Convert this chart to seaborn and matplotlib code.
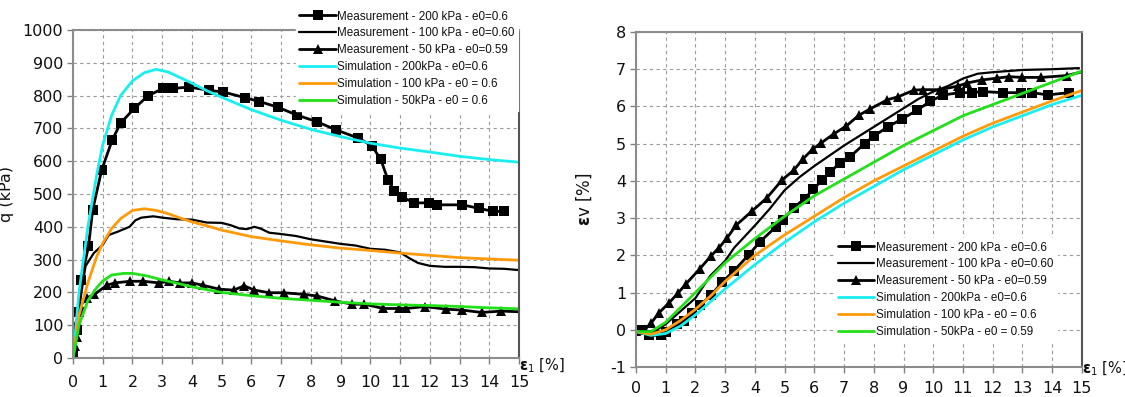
import matplotlib
matplotlib.use("Agg")
import matplotlib.pyplot as plt
import seaborn as sns
import pandas as pd

# ---------------- data: left chart (q vs eps1) ----------------
m200_q_x = [0, 0.12, 0.2, 0.28, 0.52, 0.66, 0.96, 1.32, 1.6, 2.06, 2.52, 3.02, 3.38, 3.9, 4.58, 5.06,
            5.77, 6.27, 6.88, 7.55, 8.19, 8.86, 9.59, 10.05, 10.35, 10.59, 10.8, 11.08, 11.46, 11.99,
            12.24, 13.1, 13.66, 14.14, 14.5]
m200_q_y = [8, 84, 139, 239, 340, 451, 572, 665, 716, 761, 799, 822, 822, 826, 816, 811,
            794, 782, 765, 740, 721, 695, 671, 647, 606, 544, 510, 491, 473, 473,
            467, 467, 456, 447, 447]

m100_q_x = [0, 0.2, 0.42, 0.7, 1.0, 1.2, 1.5, 1.9, 2.1, 2.3, 2.7, 3.0, 3.5, 4.0, 4.5, 5.0, 5.3, 5.6,
            5.85, 6.1, 6.3, 6.6, 7.0, 7.5, 8.0, 8.5, 9.0, 9.5, 10.0, 10.5, 11.0, 11.3, 11.6, 12.0,
            12.5, 13.0, 13.5, 14.0, 14.5, 15.0]
m100_q_y = [8, 150, 280, 320, 345, 375, 385, 400, 420, 428, 432, 428, 423, 422, 413, 412, 405, 395,
            393, 400, 395, 382, 378, 372, 362, 355, 348, 343, 333, 330, 322, 305, 290, 281,
            278, 278, 277, 273, 272, 268]

m50_q_x = [0, 0.06, 0.12, 0.12, 0.24, 0.48, 0.72, 1.14, 1.4, 1.93, 2.36, 2.9, 3.22, 3.6, 4.0, 4.36,
           4.91, 5.4, 5.76, 6.1, 6.6, 7.08, 7.78, 8.22, 8.82, 9.4, 9.8, 10.44, 10.98, 11.2, 11.84,
           12.53, 13.1, 13.74, 14.41, 15.0]
m50_q_y = [3, 38, 63, 109, 159, 184, 194, 222, 229, 234, 234, 229, 234, 229, 229, 222,
           210, 207, 220, 207, 199, 199, 194, 189, 174, 164, 164, 151, 151, 151, 157,
           149, 146, 139, 143, 141]
m50_q_mark = list(range(len(m50_q_x) - 1))

s_q_x = [0, 0.2, 0.5, 0.8, 1.0, 1.3, 1.6, 2.0, 2.4, 2.8, 3.2, 3.6, 4.0, 4.5, 5.0, 6.0, 7.0, 8.0,
         9.0, 10.0, 11.0, 12.0, 13.0, 14.0, 15.0]
s200_q_y = [0, 200, 400, 560, 650, 740, 800, 845, 870, 880, 872, 855, 838, 815, 795, 757, 725, 697,
            675, 655, 640, 628, 615, 605, 597]
s100_q_y = [0, 130, 230, 310, 350, 395, 425, 450, 455, 450, 440, 427, 415, 403, 390, 370, 357, 345,
            335, 328, 320, 313, 306, 302, 298]
s50_q_x = [0, 0.2, 0.5, 0.8, 1.0, 1.3, 1.7, 2.0, 2.5, 3.0, 3.5, 4.0, 5.0, 6.0, 7.0, 8.0, 9.0, 10.0,
           11.0, 12.0, 13.0, 14.0, 15.0]
s50_q_y = [0, 100, 175, 215, 235, 253, 258, 258, 250, 238, 228, 217, 200, 190, 182, 176, 170, 165,
           162, 160, 157, 153, 150]

# ---------------- data: right chart (eps_v vs eps1) ----------------
m200_v_x = [0, 0.2, 0.45, 0.84, 1.02, 1.39, 1.63, 1.87, 2.17, 2.53, 2.89, 3.29, 3.8, 4.18, 4.7, 4.93,
            5.31, 5.67, 5.96, 6.27, 6.52, 6.87, 7.19, 7.69, 7.99, 8.49, 8.94, 9.46, 9.9, 10.34, 10.9,
            11.3, 11.66, 12.35, 12.95, 13.31, 13.86, 14.55]
m200_v_y = [0, 0, -0.15, -0.15, -0.05, 0.15, 0.24, 0.46, 0.67, 0.93, 1.27, 1.58, 2.02, 2.37, 2.76, 2.94,
            3.28, 3.52, 3.77, 4.03, 4.23, 4.49, 4.64, 5.0, 5.2, 5.46, 5.66, 5.9, 6.14, 6.31, 6.37,
            6.37, 6.4, 6.37, 6.37, 6.37, 6.31, 6.37]

m100_v_x = [0, 0.5, 1.0, 1.5, 2.0, 2.5, 3.0, 3.3, 4.0, 4.5, 5.0, 5.5, 6.0, 7.0, 8.0, 8.5, 9.0, 9.5,
            10.0, 10.5, 11.0, 11.5, 12.0, 13.0, 14.0, 14.9]
m100_v_y = [-0.05, -0.1, 0.15, 0.5, 0.85, 1.45, 1.85, 2.2, 2.8, 3.25, 3.75, 4.1, 4.4, 4.95, 5.45, 5.7,
            5.95, 6.2, 6.4, 6.55, 6.75, 6.88, 6.92, 6.98, 7.0, 7.03]

m50_v_x = [0, 0.3, 0.52, 0.78, 1.12, 1.41, 1.69, 2.14, 2.53, 2.8, 3.07, 3.37, 3.89, 4.4, 4.92, 5.3,
           5.63, 5.94, 6.23, 6.65, 7.07, 7.49, 7.87, 8.46, 8.82, 9.36, 9.67, 10.24, 10.84, 11.14,
           11.63, 12.14, 12.55, 12.99, 13.64, 14.49, 15.0]
m50_v_y = [-0.03, 0, 0.19, 0.46, 0.73, 0.98, 1.24, 1.63, 1.99, 2.21, 2.47, 2.81, 3.18, 3.54, 4.03, 4.28,
           4.6, 4.85, 5.02, 5.26, 5.47, 5.76, 5.93, 6.18, 6.26, 6.44, 6.45, 6.45, 6.55, 6.63,
           6.71, 6.76, 6.8, 6.78, 6.78, 6.83, 6.93]
m50_v_mark = list(range(len(m50_v_x) - 1))

s_v_x = [0, 0.5, 1.0, 1.5, 2.0, 2.5, 3.0, 4.0, 5.0, 6.0, 7.0, 8.0, 9.0, 10.0, 11.0, 12.0, 13.0, 14.0, 15.0]
s200_v_y = [-0.05, -0.15, -0.1, 0.1, 0.4, 0.75, 1.1, 1.75, 2.35, 2.9, 3.4, 3.85, 4.3, 4.7, 5.1, 5.45,
            5.75, 6.05, 6.3]
s100_v_y = [-0.05, -0.12, 0.0, 0.25, 0.55, 0.9, 1.3, 2.0, 2.55, 3.05, 3.55, 4.0, 4.4, 4.8, 5.2, 5.55,
            5.85, 6.15, 6.43]
s50_v_y = [-0.05, -0.05, 0.2, 0.6, 1.0, 1.4, 1.8, 2.45, 3.05, 3.6, 4.05, 4.5, 4.95, 5.35, 5.75, 6.05,
           6.35, 6.65, 6.95]

labels_left = ["Measurement - 200 kPa - e0=0.6", "Measurement - 100 kPa - e0=0.60",
               "Measurement - 50 kPa - e0=0.59", "Simulation - 200kPa - e0=0.6",
               "Simulation - 100 kPa - e0 = 0.6", "Simulation - 50kPa - e0 = 0.6"]
labels_right = ["Measurement - 200 kPa - e0=0.6", "Measurement - 100 kPa - e0=0.60",
                "Measurement - 50 kPa - e0=0.59", "Simulation - 200kPa - e0=0.6",
                "Simulation - 100 kPa - e0 = 0.6", "Simulation - 50kPa - e0 = 0.59"]

x_ticks = list(range(0, 16))
q_ticks = list(range(0, 1001, 100))
v_ticks = list(range(-1, 9))

# ---------------- styling ----------------
sns.set_theme(style="white")
plt.rcParams['font.family'] = ['DejaVu Sans']
CYAN, ORANGE, GREEN = "#19EEF0", "#FF9A0A", "#22E01A"
GRID = "#9a9a9a"

fig = plt.figure(figsize=(11.25, 3.97), dpi=100)
axL = fig.add_axes([0.0649, 0.0982, 0.3964, 0.8262])
axR = fig.add_axes([0.5653, 0.0756, 0.3964, 0.8438])


def draw(ax, series):
    for (xs, ys, color, lw, marker, ms, mark_every) in series:
        df = pd.DataFrame({"x": xs, "y": ys})
        sns.lineplot(data=df, x="x", y="y", ax=ax, color=color, linewidth=lw,
                     marker=marker if marker else None, markersize=ms, markeredgewidth=0,
                     markevery=mark_every, estimator=None, sort=False, errorbar=None)


draw(axL, [
    (m200_q_x, m200_q_y, "black", 2.0, "s", 6.5, None),
    (m100_q_x, m100_q_y, "black", 1.6, None, 0, None),
    (m50_q_x, m50_q_y, "black", 2.0, "^", 7, m50_q_mark),
    (s_q_x, s200_q_y, CYAN, 2.0, None, 0, None),
    (s_q_x, s100_q_y, ORANGE, 2.0, None, 0, None),
    (s50_q_x, s50_q_y, GREEN, 2.0, None, 0, None),
])
draw(axR, [
    (m200_v_x, m200_v_y, "black", 2.0, "s", 6.5, None),
    (m100_v_x, m100_v_y, "black", 1.6, None, 0, None),
    (m50_v_x, m50_v_y, "black", 2.0, "^", 7, m50_v_mark),
    (s_v_x, s200_v_y, CYAN, 2.0, None, 0, None),
    (s_v_x, s100_v_y, ORANGE, 2.0, None, 0, None),
    (s_v_x, s50_v_y, GREEN, 2.0, None, 0, None),
])

for ax, yt, ylim, pad, ly in [(axL, q_ticks, (0, 1000), 8, -0.025), (axR, v_ticks, (-1, 8), 6, -0.005)]:
    ax.set_xlim(0, 15)
    ax.set_ylim(*ylim)
    ax.set_xticks(x_ticks)
    ax.set_yticks(yt)
    ax.set_xticklabels([str(t) for t in x_ticks])
    ax.set_yticklabels([str(t) for t in yt])
    ax.grid(True, color=GRID, linestyle=(0, (3, 3)), linewidth=0.8)
    ax.tick_params(axis="both", which="both", direction="out", length=4, width=1,
                   color="#808080", labelsize=11.5, labelcolor="#111111")
    ax.tick_params(axis="x", pad=pad, bottom=True)
    ax.tick_params(axis="y", pad=3, left=True)
    for s in ["left", "bottom", "top"]:
        ax.spines[s].set_color("#8c8c8c")
        ax.spines[s].set_linewidth(1.5)
    ax.spines["right"].set_color("#555555")
    ax.spines["right"].set_linewidth(1.5)
    ax.set_xlabel("")
    ax.set_ylabel("")
    ax.text(1.0, ly, r"$\boldsymbol{\varepsilon}_{1}$ [%]", transform=ax.transAxes,
            ha="left", va="center", fontsize=10.5, color="#111111")

axL.set_ylabel("q (kPa)", fontsize=11.5, color="#111111", labelpad=6)
axR.set_ylabel(r"$\boldsymbol{\varepsilon}$v [%]", fontsize=12, color="#111111", labelpad=12)

leg_font = {"family": ["Liberation Sans", "DejaVu Sans"], "size": 8.4}


def legend(ax, labels, anchor):
    handles = ax.get_lines()[:6]
    lg = ax.legend(handles, labels, loc="upper left", bbox_to_anchor=anchor, prop=leg_font,
                   frameon=True, framealpha=1.0, facecolor="white", edgecolor="white",
                   handlelength=3.1, handletextpad=0.15, labelspacing=0.42, borderpad=0.3,
                   borderaxespad=0, fancybox=False)
    lg.set_zorder(10)
    for t in lg.get_texts():
        t.set_color("#111111")
    return lg


legend(axL, labels_left, (0.50, 1.07))
legend(axR, labels_right, (0.445, 0.385))

fig.savefig("out.png", dpi=100, facecolor="white")
